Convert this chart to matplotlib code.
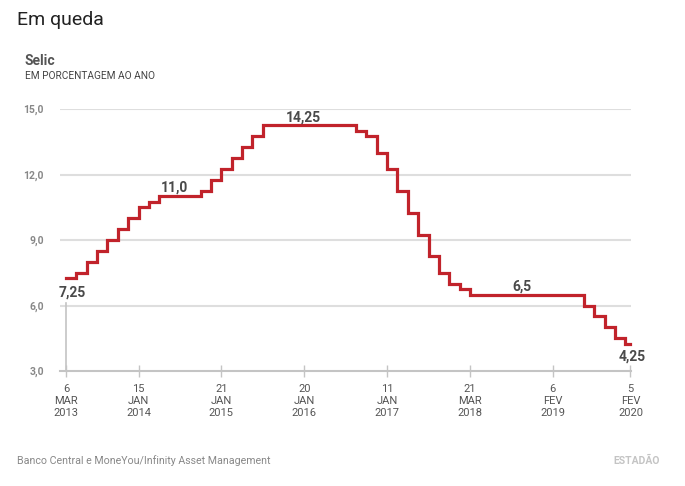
import matplotlib
matplotlib.use("Agg")
import matplotlib.pyplot as plt

# ---- data ----
meeting_values = [
    7.25, 7.5, 8.0, 8.5, 9.0, 9.5, 10.0, 10.5, 10.75,
    11.0, 11.0, 11.0, 11.0,
    11.25, 11.75, 12.25, 12.75, 13.25, 13.75,
    14.25, 14.25, 14.25, 14.25, 14.25, 14.25, 14.25, 14.25, 14.25,
    14.0, 13.75, 13.0, 12.25, 11.25, 10.25, 9.25, 8.25, 7.5, 7.0, 6.75,
    6.5, 6.5, 6.5, 6.5, 6.5, 6.5, 6.5, 6.5, 6.5, 6.5, 6.5,
    6.0, 5.5, 5.0, 4.5, 4.25,
]
end_index = 54.5  # series ends at last date tick
tick_index = [0, 7, 15, 23, 31, 39, 47, 54.5]
tick_labels = ["6\nMAR\n2013", "15\nJAN\n2014", "21\nJAN\n2015", "20\nJAN\n2016",
               "11\nJAN\n2017", "21\nMAR\n2018", "6\nFEV\n2019", "5\nFEV\n2020"]
y_ticks = [3, 6, 9, 12, 15]
y_tick_labels = ["3,0", "6,0", "9,0", "12,0", "15,0"]
value_labels = ["7,25", "11,0", "14,25", "6,5", "4,25"]
value_label_pos = [(0.58, 6.57), (10.46, 11.38), (22.95, 14.63), (44.0, 6.85), (54.7, 3.64)]

plt.rcParams['font.family'] = ['Roboto', 'DejaVu Sans']

W, H = 685, 486
fig = plt.figure(figsize=(W / 100, H / 100), dpi=100)
fig.patch.set_facecolor('white')

ax = fig.add_axes([60 / W, 1 - 371 / H, (631 - 60) / W, (371 - 109) / H])
ax.set_xlim(-0.58, 54.55)
ax.set_ylim(3, 15)

for s in ['top', 'right', 'left']:
    ax.spines[s].set_visible(False)
ax.spines['bottom'].set_color('#c4c4c4')
ax.spines['bottom'].set_linewidth(1.5)

for yv in y_ticks[1:]:
    ax.axhline(yv, color='#dedede', lw=1.5, zorder=1)

ax.set_yticks(y_ticks)
ax.set_yticklabels(y_tick_labels, fontsize=7.5, color='#888888', fontweight='bold')
ax.tick_params(axis='y', length=0, pad=11.5)

ax.set_xticks(tick_index)
ax.set_xticklabels(tick_labels, fontsize=8, color='#555555', linespacing=1.25)
ax.tick_params(axis='x', direction='inout', length=8, width=1, color='#c4c4c4', pad=5)

# pointer line from first label down to the axis
ax.plot([0, 0], [3, 6.1], color='#c4c4c4', lw=1.2, zorder=2, clip_on=False)

xs = list(range(len(meeting_values))) + [end_index]
ys = meeting_values + [meeting_values[-1]]
ax.plot(xs, ys, drawstyle='steps-post', color='#c1232b', lw=2.3, zorder=3,
        solid_joinstyle='miter', clip_on=False)

for txt, (lx, ly) in zip(value_labels, value_label_pos):
    ax.text(lx, ly, txt, ha='center', va='center', fontsize=10, fontweight='bold',
            color='#4a4a4a', zorder=4)

fig.text(17 / W, 1 - 25 / H, "Em queda", fontsize=14, color='#222222', va='baseline')
fig.text(25 / W, 1 - 65 / H, "Selic", fontsize=10, fontweight='bold', color='#555555', va='baseline')
fig.text(25 / W, 1 - 79 / H, "EM PORCENTAGEM AO ANO", fontsize=7.3, color='#444444', va='baseline')
fig.text(17 / W, 1 - 461 / H, "Banco Central e MoneYou/Infinity Asset Management", fontsize=7.7,
         color='#888888', va='center')
fig.text(660 / W, 1 - 461 / H, "ESTADÃO", fontsize=7.5, fontweight='bold', color='#c4c4c4',
         va='center', ha='right')

fig.savefig("out.png", dpi=100, facecolor='white')
